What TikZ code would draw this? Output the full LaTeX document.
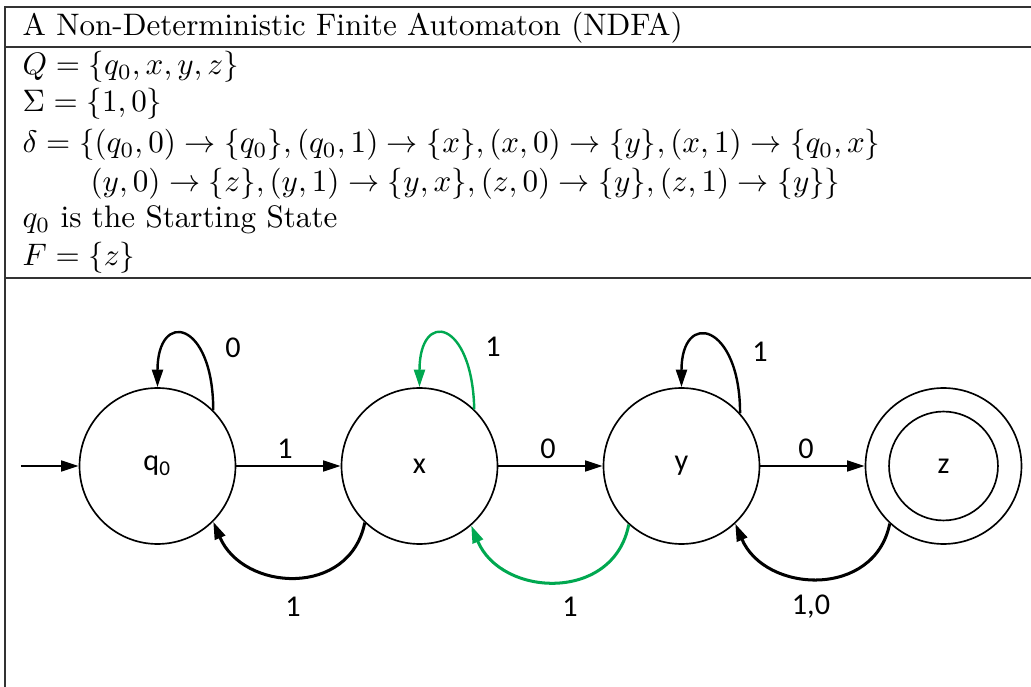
\RequirePackage{fix-cm}
\documentclass[tikz,border=0pt]{standalone}
\usepackage{fontspec}
\newfontfamily\statefont{Carlito}
\usetikzlibrary{arrows.meta}
\definecolor{nfagreen}{RGB}{0,168,80}
\tikzset{
  statebox/.style={circle,draw,line width=0.55pt,minimum size=1.816cm,inner sep=0pt,font=\statefont},
  trans/.style={-{Triangle[length=5.8pt,width=3.6pt]},line width=0.7pt},
  loopline/.style={trans,line width=0.8pt},
  arcline/.style={trans,line width=1pt},
  edgelbl/.style={font=\statefont,inner sep=0pt},
  rowtext/.style={anchor=base west,inner sep=0pt,font=\fontsize{10.3}{12.4}\selectfont},
  rule/.style={line width=0.5pt,black!80},
}
\begin{document}
\begin{tikzpicture}[x=0.011639cm,y=-0.011639cm]
\useasboundingbox (0,0) rectangle (1031,687);
% table
\draw[rule] (5,687) -- (5,7) -- (1031,7);
\draw[rule] (5,47) -- (1031,47);
\draw[rule] (5,278) -- (1031,278);
\node[rowtext] (title) at (22,36) {A Non-Deterministic Finite Automaton (NDFA)};
\node[rowtext] (states) at (22,75) {$Q = \{q_0, x, y, z\}$};
\node[rowtext] (alpha) at (22,112) {$\Sigma = \{1, 0\}$};
\node[rowtext] (delta) at (22,153) {$\delta = \{(q_0,0) \rightarrow \{q_0\}, (q_0,1) \rightarrow \{x\}, (x,0) \rightarrow \{y\}, (x,1) \rightarrow \{q_0,x\}$};
\node[rowtext] (deltab) at (90,192) {$(y,0) \rightarrow \{z\}, (y,1) \rightarrow \{y,x\}, (z,0) \rightarrow \{y\}, (z,1) \rightarrow \{y\}\}$};
\node[rowtext] (start) at (22,228) {$q_0$ is the Starting State};
\node[rowtext] (final) at (22,266) {$F = \{z\}$};

% automaton
\node[statebox] (q0) at (157.5,466) {q\textsubscript{0}};
\node[statebox] (x) at (419.5,466) {x};
\node[statebox] (y) at (681.5,466) {y};
\node[statebox] (z) at (943.5,466) {z};
\draw[line width=0.55pt] (z.center) circle (0.634cm);
\coordinate (init) at (21,466);

\draw[trans] (init) -- (q0);
\draw[trans] (q0) -- (x);
\draw[trans] (x) -- (y);
\draw[trans] (y) -- (z);
\node[edgelbl] (l1) at (285,449) {1};
\node[edgelbl] (l2) at (548,449) {0};
\node[edgelbl] (l3) at (806,449) {0};

% loops
\draw[loopline] (q0.45) .. controls +(0,-90) and +(0,-78) .. (q0.north);
\draw[loopline,nfagreen] (x.46) .. controls +(-2,-90) and +(0,-78) .. (x.north);
\draw[loopline] (y.42) .. controls +(0,-90) and +(0,-78) .. (y.north);
\node[edgelbl] (l4) at (233,348) {0};
\node[edgelbl] (l5) at (493,347) {1};
\node[edgelbl] (l6) at (760,352) {1};

% back arcs
\draw[arcline] (x.-134) .. controls +(-15,75) and +(30,70) .. (q0.-45);
\draw[arcline,nfagreen] (y.-132) .. controls +(-15,78) and +(30,72) .. (x.-49);
\draw[arcline] (z.-133) .. controls +(-15,75) and +(30,70) .. (y.-47);
\node[edgelbl] (l7) at (293,607) {1};
\node[edgelbl] (l8) at (570,607) {1};
\node[edgelbl] (l9) at (811,607) {1,0};
\end{tikzpicture}
\end{document}
